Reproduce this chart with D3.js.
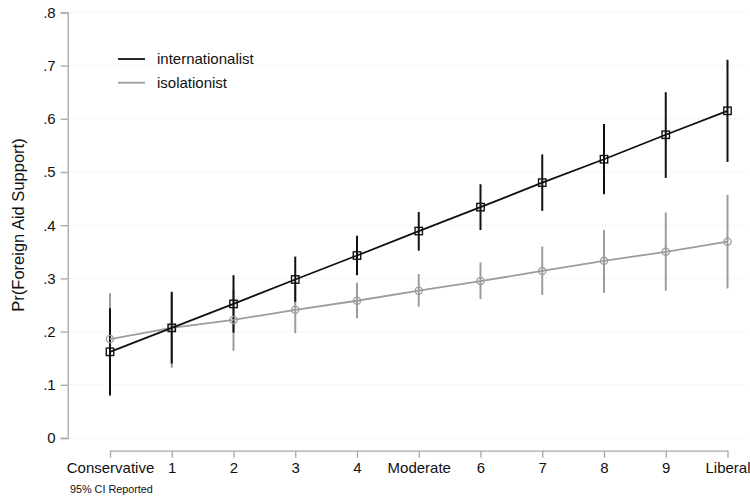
<!DOCTYPE html>
<html lang="en">
<head>
  <meta charset="UTF-8">
  <title>Foreign Aid Support</title>
  <style>
    body { margin: 0; background: #fff; }
    svg { font-family: "Liberation Sans", Arial, Helvetica, sans-serif; }
  </style>
</head>
<body>
  <svg id="svg" width="750" height="499"></svg>

  <script src="https://d3js.org/d3.v7.min.js"></script>
  <script>
    // ------ DATA ------
    const categories = ['Conservative', '1', '2', '3', '4', 'Moderate', '6', '7', '8', '9', 'Liberal']
    const intlEst = [0.162, 0.207, 0.252, 0.298, 0.343, 0.389, 0.434, 0.480, 0.524, 0.570, 0.615]
    const intlLo  = [0.080, 0.140, 0.198, 0.256, 0.306, 0.352, 0.391, 0.427, 0.458, 0.489, 0.519]
    const intlHi  = [0.244, 0.275, 0.306, 0.341, 0.380, 0.425, 0.477, 0.533, 0.590, 0.650, 0.711]
    const isoEst  = [0.186, 0.207, 0.222, 0.241, 0.258, 0.277, 0.295, 0.314, 0.333, 0.350, 0.369]
    const isoLo   = [0.100, 0.132, 0.164, 0.197, 0.225, 0.247, 0.261, 0.269, 0.273, 0.277, 0.281]
    const isoHi   = [0.272, 0.272, 0.280, 0.285, 0.292, 0.308, 0.330, 0.360, 0.391, 0.424, 0.457]
    const yTicks  = [0, 0.1, 0.2, 0.3, 0.4, 0.5, 0.6, 0.7, 0.8]
    const seriesNames = ['internationalist', 'isolationist']

    // CONSTANTS
    const black = '#111'
    const gray = '#9c9c9c'
    const axisColor = '#a6a6a6'
    const fs = 15

    const svg = d3.select('#svg')

    const x = d3.scaleLinear().domain([0, 10]).range([110, 727.5])
    const y = d3.scaleLinear().domain([0, 0.8]).range([438, 12.4])

    // gridlines
    svg.append('g')
      .selectAll('line')
      .data(yTicks)
      .join('line')
      .attr('x1', 70).attr('x2', 748)
      .attr('y1', d => y(d)).attr('y2', d => y(d))
      .attr('stroke', '#dadada')
      .attr('stroke-width', 1)
      .attr('stroke-dasharray', '1,3')

    // y axis
    const yAxis = svg.append('g')
      .attr('transform', 'translate(67.7,0)')
      .call(d3.axisLeft(y).tickValues(yTicks).tickSize(7).tickPadding(5)
        .tickFormat(d => d === 0 ? '0' : d3.format('.1f')(d).replace(/^0/, '')))
    yAxis.select('.domain').attr('stroke', axisColor).attr('stroke-width', 1.3)
    yAxis.selectAll('.tick line').attr('stroke', axisColor).attr('stroke-width', 1.3)
    yAxis.selectAll('.tick text').attr('font-size', fs).attr('fill', '#111')

    // x axis (offset below the plot)
    const xAxis = svg.append('g')
      .attr('transform', 'translate(0,450.7)')
      .call(d3.axisBottom(x).tickValues(d3.range(categories.length)).tickSize(7).tickSizeOuter(0).tickPadding(5)
        .tickFormat(i => categories[i]))
    xAxis.select('.domain').attr('stroke', axisColor).attr('stroke-width', 1.3)
    xAxis.selectAll('.tick line').attr('stroke', axisColor).attr('stroke-width', 1.3)
    xAxis.selectAll('.tick text').attr('font-size', fs).attr('fill', '#111')

    // y title
    svg.append('text')
      .attr('transform', 'translate(24,225) rotate(-90)')
      .attr('text-anchor', 'middle')
      .attr('font-size', 16.5)
      .attr('fill', '#111')
      .text('Pr(Foreign Aid Support)')

    // note
    svg.append('text')
      .attr('x', 70).attr('y', 493)
      .attr('font-size', 10.8)
      .attr('fill', '#111')
      .text('95% CI Reported')

    const idx = d3.range(categories.length)

    // confidence intervals
    function drawCI(lo, hi, color) {
      svg.append('g')
        .selectAll('line')
        .data(idx)
        .join('line')
        .attr('x1', i => x(i)).attr('x2', i => x(i))
        .attr('y1', i => y(lo[i])).attr('y2', i => y(hi[i]))
        .attr('stroke', color)
        .attr('stroke-width', 2)
    }
    drawCI(isoLo, isoHi, gray)
    drawCI(intlLo, intlHi, black)

    const line = d3.line().x((d, i) => x(i)).y(d => y(d))

    // isolationist
    svg.append('path')
      .datum(isoEst)
      .attr('d', line)
      .attr('fill', 'none')
      .attr('stroke', gray)
      .attr('stroke-width', 1.8)
    svg.append('g')
      .selectAll('circle')
      .data(isoEst)
      .join('circle')
      .attr('cx', (d, i) => x(i))
      .attr('cy', d => y(d))
      .attr('r', 3.6)
      .attr('fill', 'none')
      .attr('stroke', gray)
      .attr('stroke-width', 1.3)

    // internationalist
    svg.append('path')
      .datum(intlEst)
      .attr('d', line)
      .attr('fill', 'none')
      .attr('stroke', black)
      .attr('stroke-width', 1.8)
    svg.append('g')
      .selectAll('rect')
      .data(intlEst)
      .join('rect')
      .attr('x', (d, i) => x(i) - 3.7)
      .attr('y', d => y(d) - 3.7)
      .attr('width', 7.4)
      .attr('height', 7.4)
      .attr('fill', 'none')
      .attr('stroke', black)
      .attr('stroke-width', 1.4)

    // legend
    const legend = svg.append('g')
      .selectAll('g')
      .data(seriesNames)
      .join('g')
      .attr('transform', (d, i) => `translate(118,${59 + i * 23.7})`)
    legend.append('line')
      .attr('x1', 0).attr('x2', 27)
      .attr('stroke', (d, i) => i === 0 ? black : gray)
      .attr('stroke-width', 1.8)
    legend.append('text')
      .attr('x', 39).attr('y', 5.4)
      .attr('font-size', fs)
      .attr('fill', '#111')
      .text(d => d)
  </script>
</body>
</html>
